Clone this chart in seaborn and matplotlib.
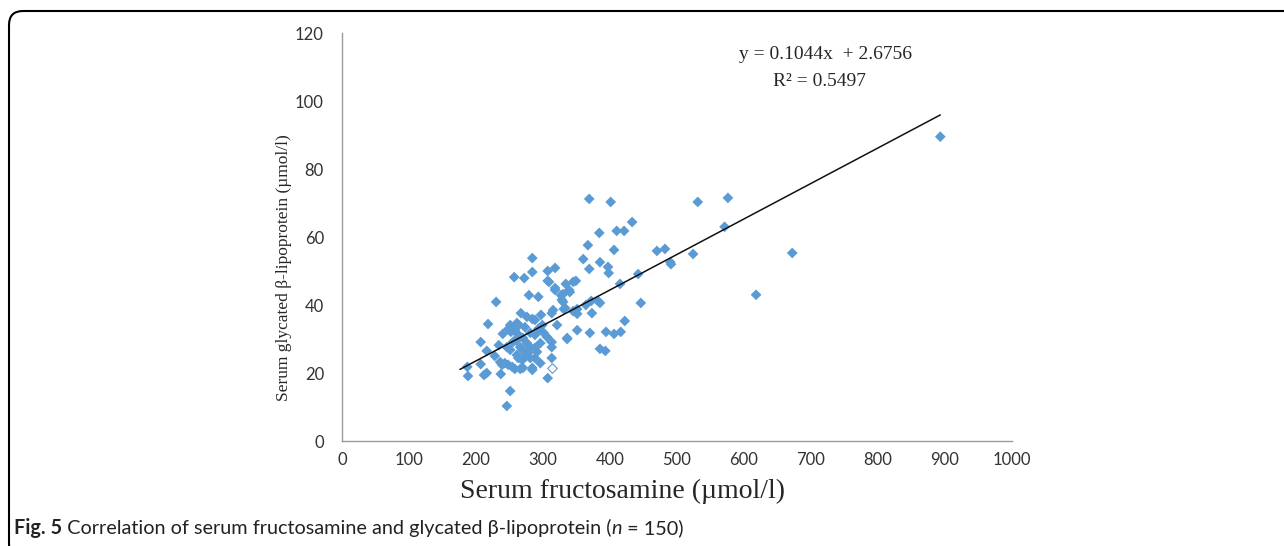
import matplotlib
matplotlib.use("Agg")
import matplotlib.pyplot as plt
from matplotlib.patches import FancyBboxPatch
from matplotlib.transforms import IdentityTransform
import numpy as np
import pandas as pd
import seaborn as sns

# serum fructosamine (umol/l) vs glycated beta-lipoprotein (umol/l)
fructosamine = [893, 576, 531, 571, 524, 672, 618, 369, 401, 433, 384, 410, 421, 367, 406,
                470, 482, 490, 491, 360, 385, 397, 369, 398, 442, 349, 334, 415, 330, 339,
                340, 330, 331, 345, 351, 351, 364, 372, 382, 385, 373, 446, 422, 351, 370,
                394, 406, 416, 336, 385, 393, 230, 218, 207, 188, 187, 216, 207, 216, 212,
                228, 234, 240, 248, 252, 267, 279, 293, 309, 318, 327, 328, 333, 313, 315,
                321, 299, 288, 276, 284, 261, 264, 251, 258, 273, 281, 263, 270, 255, 276,
                281, 288, 291, 266, 269, 251, 246, 261, 263, 269, 273, 281, 288, 296, 284,
                284, 270, 266, 258, 254, 248, 243, 239, 236, 237, 296, 301, 306, 313, 313,
                313, 307, 251, 246, 288, 297, 284, 257, 272, 284, 307, 318, 307, 318, 345,
                336, 260, 278, 293, 262]
glycated = [89.5, 71.5, 70.3, 63.0, 55.0, 55.3, 43.0, 71.2, 70.3, 64.4, 61.2, 61.8, 61.8, 57.6, 56.2,
            55.9, 56.5, 52.6, 52.0, 53.5, 52.6, 51.2, 50.6, 49.4, 49.1, 47.1, 46.2, 46.2, 43.2, 44.4,
            43.8, 40.9, 38.8, 38.2, 38.8, 37.4, 40.0, 41.2, 41.2, 40.6, 37.6, 40.6, 35.3, 32.6, 31.8,
            32.1, 31.5, 32.1, 30.0, 27.1, 26.5, 40.9, 34.4, 29.1, 19.1, 21.8, 26.5, 22.6, 20.0, 19.4,
            25.0, 28.2, 31.5, 32.9, 32.1, 37.6, 42.9, 42.4, 46.8, 44.4, 42.9, 41.5, 39.1, 37.6, 38.5,
            34.1, 34.1, 35.6, 36.5, 35.9, 34.7, 34.1, 34.1, 32.6, 33.5, 31.8, 30.6, 30.3, 29.1, 28.8,
            27.6, 27.4, 26.2, 27.6, 26.8, 26.8, 27.6, 25.3, 24.4, 23.8, 24.7, 24.4, 24.4, 22.9, 21.5,
            20.9, 21.5, 21.2, 21.2, 21.8, 22.4, 22.9, 22.4, 23.2, 19.7, 28.8, 31.8, 30.6, 29.1, 27.6,
            24.4, 18.5, 14.7, 10.3, 31.2, 37.1, 53.8, 48.2, 47.9, 49.7, 50.0, 50.9, 47.1, 45.0, 46.8,
            30.3, 29.5, 26.0, 33.0, 31.5]
# the one hollow marker
hollow_x = [313]
hollow_y = [21.5]

slope = 0.1044
intercept = 2.6756
fit_range = [176, 893]

x_ticks = [0, 100, 200, 300, 400, 500, 600, 700, 800, 900, 1000]
y_ticks = [0, 20, 40, 60, 80, 100, 120]

df = pd.DataFrame({"fructosamine": fructosamine, "glycated": glycated})

sns.set_style("white")
blue = "#5B9BD5"
axis_gray = "#9a9a9a"

fig = plt.figure(figsize=(12.84, 5.46), dpi=100)
ax = fig.add_axes([342 / 1284, 1 - 441 / 546, 670 / 1284, 408 / 546])

sns.scatterplot(data=df, x="fructosamine", y="glycated", marker="D", s=30,
                color=blue, edgecolor="none", linewidth=0, ax=ax, zorder=3)
ax.scatter(hollow_x, hollow_y, marker="D", s=24, facecolor="white",
           edgecolor=blue, linewidth=0.8, zorder=3)

fit_x = np.array(fit_range)
ax.plot(fit_x, slope * fit_x + intercept, color="#111111", lw=1.1, zorder=4)

ax.set_xlim(0, 1000)
ax.set_ylim(0, 120)
ax.set_xticks(x_ticks)
ax.set_yticks(y_ticks)
ax.set_xticklabels([str(t) for t in x_ticks], family="Lato", fontsize=12, color="#333333")
ax.set_yticklabels([str(t) for t in y_ticks], family="Lato", fontsize=12, color="#333333")
ax.tick_params(axis="x", direction="out", length=4, width=0.9, color=axis_gray, pad=4)
ax.tick_params(axis="y", direction="out", length=4, width=0.9, color=axis_gray, pad=9)

sns.despine(ax=ax)
for side in ["left", "bottom"]:
    ax.spines[side].set_color(axis_gray)
    ax.spines[side].set_linewidth(1.0)

ax.set_xlabel("Serum fructosamine (\u00b5mol/l)", family="Liberation Serif", fontsize=20)
ax.set_ylabel("Serum glycated \u03b2-lipoprotein (\u00b5mol/l)", family="Liberation Serif", fontsize=12.5)
ax.xaxis.set_label_coords(0.418, -0.092)
ax.yaxis.set_label_coords(-0.075, 0.424)

ax.text(0.722, 0.948, "y = 0.1044x  + 2.6756", transform=ax.transAxes, ha="center", va="center",
        family="Liberation Serif", fontsize=14)
ax.text(0.713, 0.882, "R\u00b2 = 0.5497", transform=ax.transAxes, ha="center", va="center",
        family="Liberation Serif", fontsize=14)

# rounded frame around the figure panel (pixel coordinates)
frame = FancyBboxPatch((9, -12), 1320, 547, boxstyle="round,pad=0,rounding_size=14",
                       transform=IdentityTransform(), facecolor="none", edgecolor="black",
                       linewidth=1.5)
fig.patches.append(frame)

# caption, drawn piece by piece
pieces = [("Fig. 5", "bold", "normal"),
          (" Correlation of serum fructosamine and glycated \u03b2-lipoprotein (", "normal", "normal"),
          ("n", "normal", "italic"),
          (" = 150)", "normal", "normal")]
fig.canvas.draw()
renderer = fig.canvas.get_renderer()
x_px = 14
for txt, weight, style in pieces:
    t = fig.text(x_px / 1284, 1 - 528 / 546, txt, family="Lato", fontsize=14.3, weight=weight,
                 style=style, va="center", ha="left", color="#222222")
    bb = t.get_window_extent(renderer)
    x_px += bb.width

fig.savefig("out.png", dpi=100)
